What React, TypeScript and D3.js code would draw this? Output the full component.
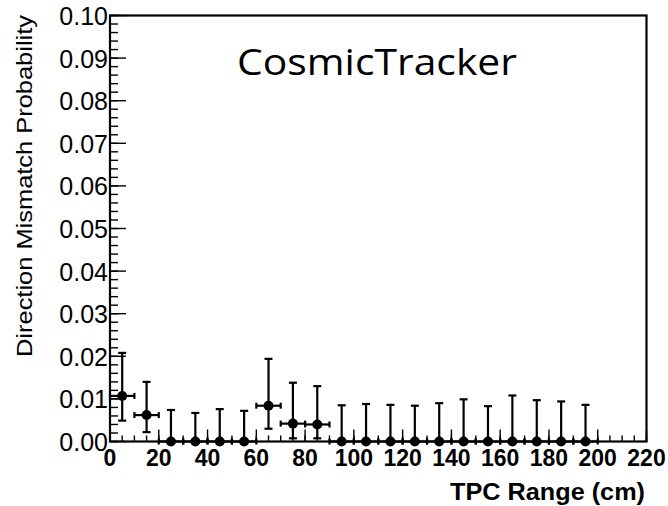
import React from "react";
import * as d3 from "d3";

const binCenters = [5, 15, 25, 35, 45, 55, 65, 75, 85, 95, 105, 115, 125, 135, 145, 155, 165, 175, 185, 195];
const mismatchProb = [0.0107, 0.0062, 0, 0, 0, 0, 0.0084, 0.0042, 0.004, 0, 0, 0, 0, 0, 0, 0, 0, 0, 0, 0];
const upperBound = [0.0208, 0.014, 0.0074, 0.0067, 0.0076, 0.0072, 0.0194, 0.0138, 0.013, 0.0085, 0.0088, 0.0086, 0.0084, 0.009, 0.0099, 0.0083, 0.0108, 0.0097, 0.0094, 0.0086];
const lowerBound = [0.0049, 0.0022, 0, 0, 0, 0, 0.003, 0.00075, 0.00075, 0, 0, 0, 0, 0, 0, 0, 0, 0, 0, 0];
const binHalfWidth = 5;
const xTickValues = [0, 20, 40, 60, 80, 100, 120, 140, 160, 180, 200, 220];
const yTickValues = [0, 0.01, 0.02, 0.03, 0.04, 0.05, 0.06, 0.07, 0.08, 0.09, 0.1];
const xTitle = "TPC Range (cm)";
const yTitle = "Direction Mismatch Probability";
const label = "CosmicTracker";

const W = 668;
const H = 506;
const L = 110;
const R = 646.5;
const T = 15.5;
const B = 441.5;

export default function App() {
  const x = d3.scaleLinear().domain([0, 220]).range([L, R]);
  const y = d3.scaleLinear().domain([0, 0.1]).range([B, T]);
  const xMinor = d3.range(0, 220.001, 5);
  const yMinor = d3.range(0, 0.1001, 0.002);
  const font = "'Liberation Sans', Arial, Helvetica, sans-serif";
  const cap = 4;
  return (
    <svg width={W} height={H} style={{ position: "absolute", left: 0, top: 0, background: "#fff" }}>
      <rect x={0} y={0} width={W} height={H} fill="#fff" />
      {xMinor.map((v, i) => (
        <line key={"xm" + i} x1={x(v)} x2={x(v)} y1={B} y2={B - 6} stroke="#000" strokeWidth={1.4} />
      ))}
      {xTickValues.map((v, i) => (
        <line key={"xM" + i} x1={x(v)} x2={x(v)} y1={B} y2={B - 12} stroke="#000" strokeWidth={1.4} />
      ))}
      {yMinor.map((v, i) => (
        <line key={"ym" + i} x1={L} x2={L + 8} y1={y(v)} y2={y(v)} stroke="#000" strokeWidth={1.4} />
      ))}
      {yTickValues.map((v, i) => (
        <line key={"yM" + i} x1={L} x2={L + 16} y1={y(v)} y2={y(v)} stroke="#000" strokeWidth={1.4} />
      ))}
      <rect x={L} y={T} width={R - L} height={B - T} fill="none" stroke="#000" strokeWidth={2.2} />
      {xTickValues.map((v, i) => (
        <text key={"xl" + i} x={x(v)} y={466} textAnchor="middle" fontFamily={font} fontWeight="bold" fontSize={23} fill="#000">
          {v}
        </text>
      ))}
      {yTickValues.map((v, i) => (
        <text key={"yl" + i} x={108} y={y(v) + 9.5} textAnchor="end" fontFamily={font} fontSize={25} fill="#000">
          {d3.format(".2f")(v)}
        </text>
      ))}
      <text x={645} y={500} textAnchor="end" fontFamily={font} fontWeight="bold" fontSize={23} textLength={195} lengthAdjust="spacingAndGlyphs" fill="#000">
        {xTitle}
      </text>
      <text
        transform={`translate(32,357) rotate(-90)`}
        x={0}
        y={0}
        textAnchor="start"
        fontFamily={font}
        fontSize={22}
        textLength={342}
        lengthAdjust="spacingAndGlyphs"
        fill="#000"
      >
        {yTitle}
      </text>
      <text x={237} y={75} fontFamily="'Open Sans', Lato, sans-serif" fontSize={37} textLength={280} lengthAdjust="spacingAndGlyphs" fill="#000">
        {label}
      </text>
      {binCenters.map((c, i) => {
        const cx = x(c);
        const cy = y(mismatchProb[i]);
        const yu = y(upperBound[i]);
        const yl = y(lowerBound[i]);
        const xl = x(c - binHalfWidth);
        const xr = x(c + binHalfWidth);
        return (
          <g key={"p" + i} stroke="#000" strokeWidth={2.2}>
            <line x1={cx} x2={cx} y1={yu} y2={yl} />
            <line x1={cx - cap} x2={cx + cap} y1={yu} y2={yu} />
            <line x1={cx - cap} x2={cx + cap} y1={yl} y2={yl} />
            <line x1={xl} x2={xr} y1={cy} y2={cy} />
            <line x1={xl} x2={xl} y1={cy - 3} y2={cy + 3} />
            <line x1={xr} x2={xr} y1={cy - 3} y2={cy + 3} />
            <circle cx={cx} cy={cy} r={5} fill="#000" stroke="none" />
          </g>
        );
      })}
    </svg>
  );
}
